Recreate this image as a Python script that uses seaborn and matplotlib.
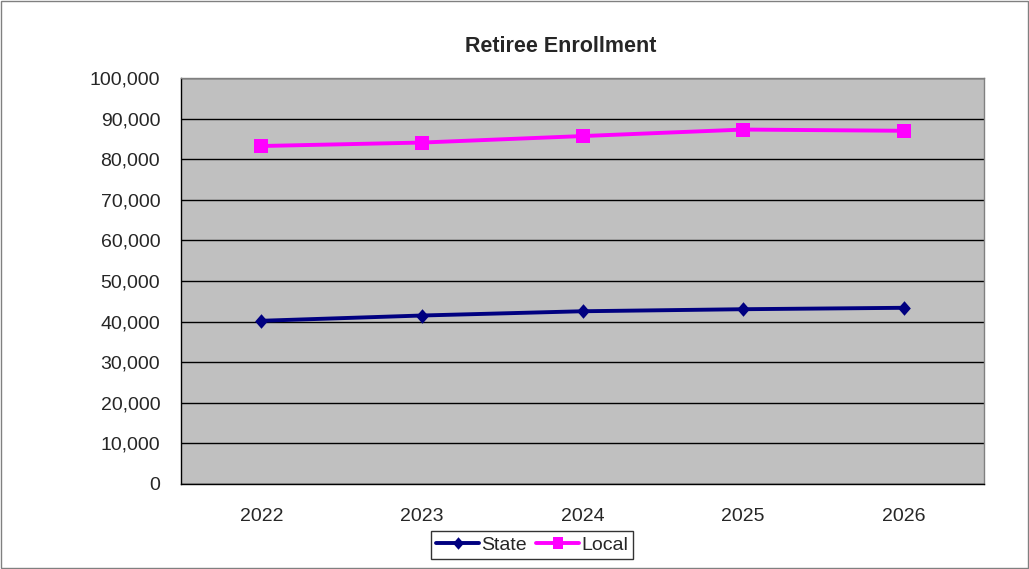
#!/usr/bin/env python3
"""Retiree Enrollment line chart (State vs Local), Excel-style look."""

import numpy as np
import pandas as pd
import matplotlib
matplotlib.use("Agg")
import matplotlib.pyplot as plt
import matplotlib.ticker as mticker
from matplotlib.patches import Rectangle
import seaborn as sns

# data
years = ["2022", "2023", "2024", "2025", "2026"]
state_values = [40200, 41500, 42550, 43050, 43400]
local_values = [83250, 84100, 85700, 87300, 87000]
series_names = ["State", "Local"]

df = pd.DataFrame({
    "pos": list(range(len(years))) * 2,
    "value": state_values + local_values,
    "series": [series_names[0]] * len(years) + [series_names[1]] * len(years),
})

# marker shapes (slightly taller than wide, like the source)
tall_diamond = [(0, -1), (0.87, 0), (0, 1), (-0.87, 0), (0, -1)]
tall_square = [(-0.93, -1), (0.93, -1), (0.93, 1), (-0.93, 1), (-0.93, -1)]

sns.set_theme(style="white")
plt.rcParams["font.family"] = ["Liberation Sans", "DejaVu Sans"]

fig = plt.figure(figsize=(10.29, 5.69), dpi=100)
ax = fig.add_axes([181 / 1029, 1 - 484 / 569, (984 - 181) / 1029, (484 - 78) / 569])
ax.set_facecolor("#C0C0C0")

sns.lineplot(data=df, x="pos", y="value", hue="series", style="series",
             palette={"State": "#000080", "Local": "#FF00FF"},
             markers={"State": tall_diamond, "Local": tall_square}, dashes=False,
             markersize=10.5, linewidth=2.8, markeredgewidth=0, ax=ax, legend=False)

ax.set_xlim(-0.5, len(years) - 0.5)
ax.set_ylim(0, 100000)
ax.yaxis.set_major_locator(mticker.MultipleLocator(10000))
ax.yaxis.set_major_formatter(mticker.FuncFormatter(lambda v, p: f"{int(v):,}"))
ax.grid(axis="y", color="#000000", linewidth=1.0)
ax.set_axisbelow(True)

ax.set_xticks(range(len(years)))
ax.set_xticklabels(years)
ax.set_xticks(np.arange(-0.5, len(years)), minor=True)
ax.tick_params(axis="x", which="major", length=0, labelsize=14, pad=17)
ax.tick_params(axis="x", which="minor", length=6, width=1, color="#000000", direction="out")
ax.tick_params(axis="y", length=6, width=1, color="#000000", direction="out", labelsize=14, pad=9)
ax.set_xlabel("")
ax.set_ylabel("")

for side in ["top", "right"]:
    ax.spines[side].set_color("#808080")
    ax.spines[side].set_linewidth(1)
for side in ["left", "bottom"]:
    ax.spines[side].set_color("#000000")
    ax.spines[side].set_linewidth(1)

fig.text(0.545, 1 - 46 / 569, "Retiree Enrollment", ha="center", va="center",
         fontsize=15.5, fontweight="bold")

# legend, boxed under the plot
handles = [
    plt.Line2D([], [], color="#000080", marker=tall_diamond, markersize=9, linewidth=2.8, markeredgewidth=0),
    plt.Line2D([], [], color="#FF00FF", marker=tall_square, markersize=8.5, linewidth=2.8, markeredgewidth=0),
]
leg = fig.legend(handles, series_names, loc="center", bbox_to_anchor=(532 / 1029, 1 - 545 / 569),
                 ncol=2, frameon=True, fancybox=False, fontsize=14, handlelength=2.2,
                 handletextpad=0.1, columnspacing=0.5, borderpad=0.25, borderaxespad=0)
leg.get_frame().set_edgecolor("#000000")
leg.get_frame().set_linewidth(1)

# thin outer border of the chart area
fig.patches.append(Rectangle((0.001, 0.001), 0.998, 0.997, transform=fig.transFigure,
                             fill=False, edgecolor="#808080", linewidth=1))

fig.savefig("out.png", dpi=100)
